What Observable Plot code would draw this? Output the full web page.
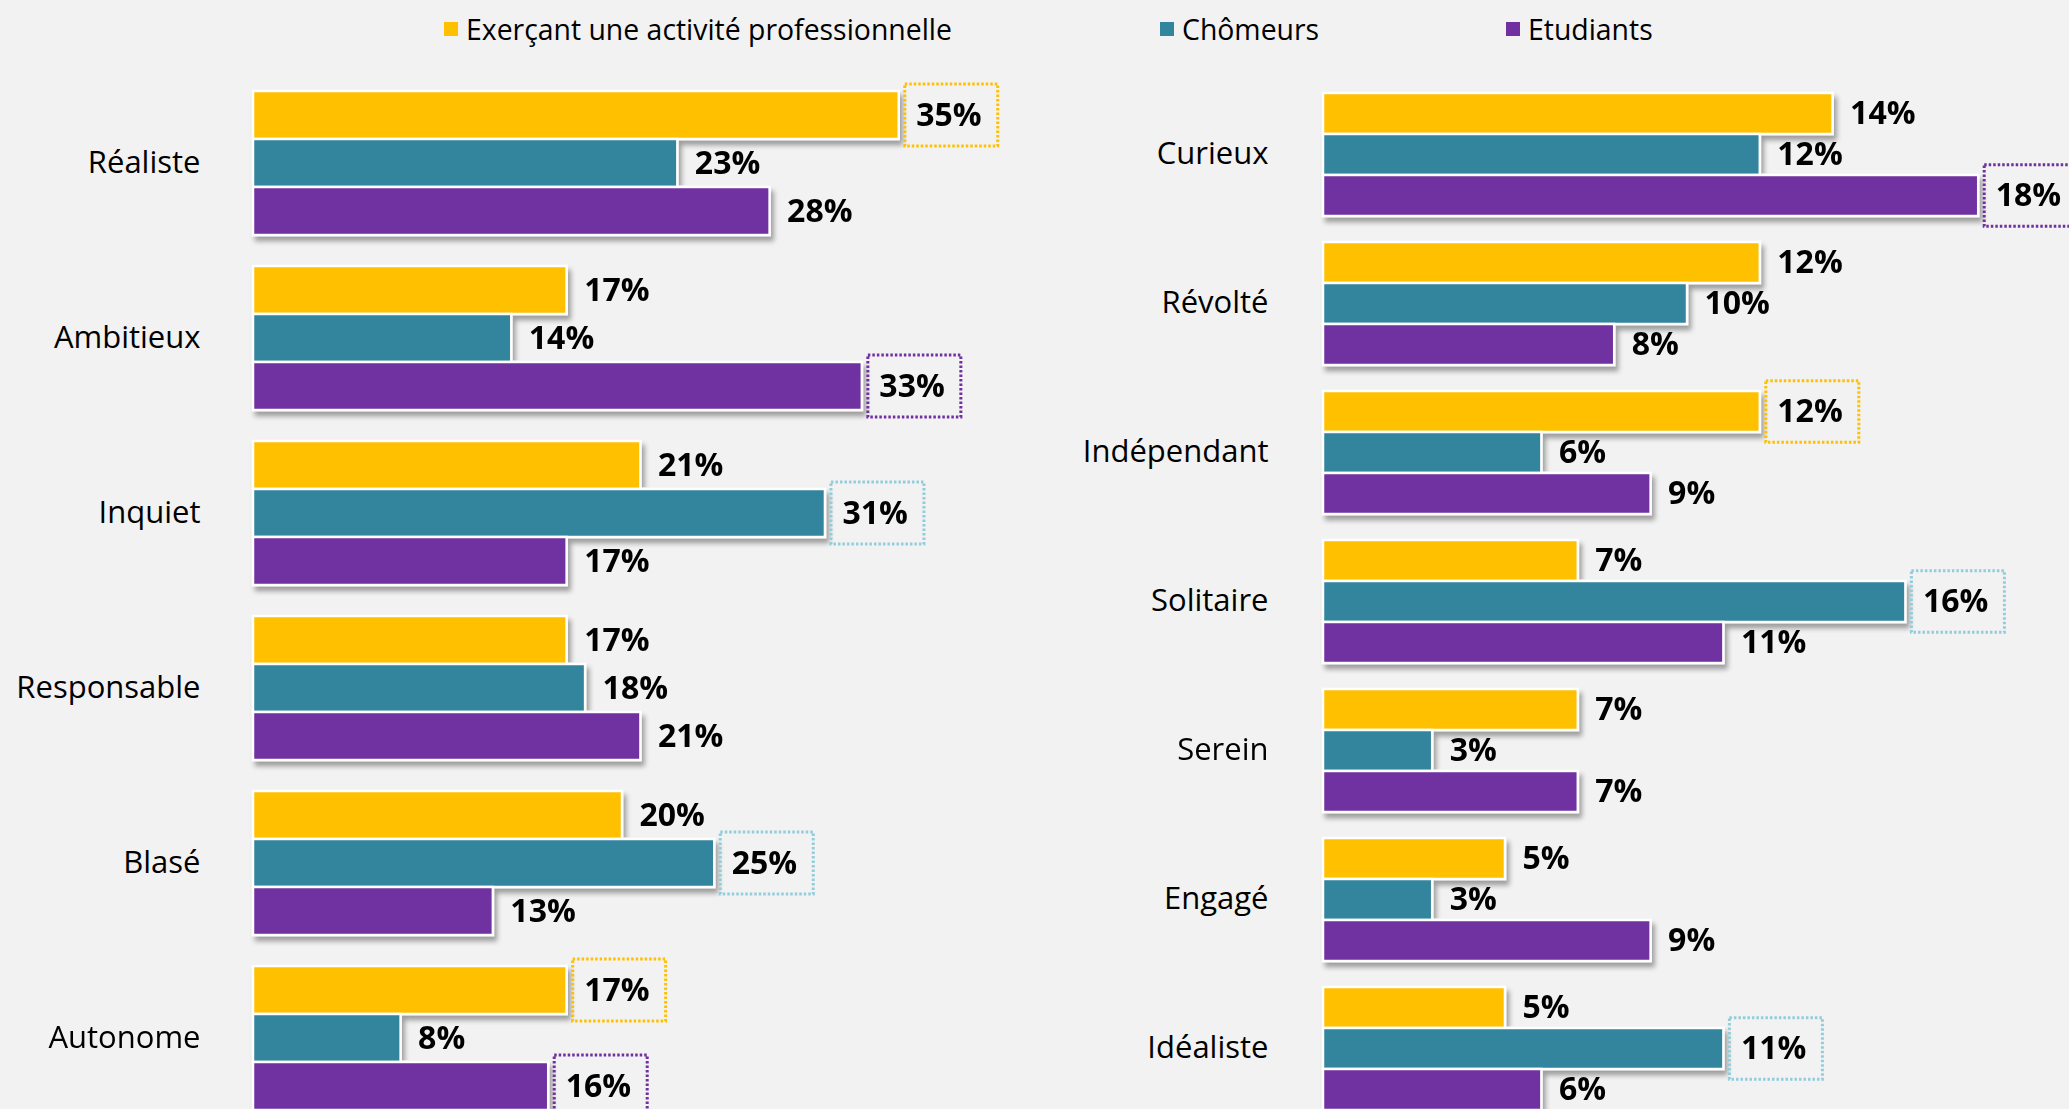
<!DOCTYPE html>
<html>
<head>
<meta charset="utf-8">
<script src="https://cdn.jsdelivr.net/npm/d3@7"></script>
<script src="https://cdn.jsdelivr.net/npm/@observablehq/plot@0.6"></script>
<style>
  html, body { margin: 0; padding: 0; background: #f2f2f2; width: 2069px; height: 1109px; overflow: hidden; font-family: "Open Sans", sans-serif; }
  #left, #right { position: absolute; top: 0; }
  #left { left: 0; width: 1040px; }
  #right { left: 1040px; width: 1029px; }
  .legend-item { position: absolute; top: 10px; height: 39px; font-size: 28.4px; line-height: 39px; color: #000; white-space: nowrap; }
  .legend-item .sw { position: absolute; left: 0; top: 12px; width: 14px; height: 14px; }
  .legend-item .lb { position: absolute; left: 22px; top: 0; }
</style>
</head>
<body>
<div id="legend"></div>
<div id="left"></div>
<div id="right"></div>
<script>
// ---- data ----
const seriesNames = ["Exerçant une activité professionnelle", "Chômeurs", "Etudiants"];
const seriesColors = ["#FFC000", "#31859C", "#7030A0"];
const highlightColors = ["#FFC000", "#92CDDC", "#7030A0"];

const leftCategories = ["Réaliste", "Ambitieux", "Inquiet", "Responsable", "Blasé", "Autonome"];
const leftWorking    = [35, 17, 21, 17, 20, 17];
const leftUnemployed = [23, 14, 31, 18, 25, 8];
const leftStudents   = [28, 33, 17, 21, 13, 16];
const leftWorkingHL    = [true, false, false, false, false, true];
const leftUnemployedHL = [false, false, true, false, true, false];
const leftStudentsHL   = [false, true, false, false, false, true];

const rightCategories = ["Curieux", "Révolté", "Indépendant", "Solitaire", "Serein", "Engagé", "Idéaliste"];
const rightWorking    = [14, 12, 12, 7, 7, 5, 5];
const rightUnemployed = [12, 10, 6, 16, 3, 3, 11];
const rightStudents   = [18, 8, 9, 11, 7, 9, 6];
const rightWorkingHL    = [false, false, true, false, false, false, false];
const rightUnemployedHL = [false, false, false, true, false, false, true];
const rightStudentsHL   = [true, false, false, false, false, false, false];

// ---- legend ----
const legendX = [444, 1160, 1506];
const legend = document.getElementById("legend");
seriesNames.forEach((s, j) => {
  const item = document.createElement("div");
  item.className = "legend-item";
  item.style.left = legendX[j] + "px";
  const sw = document.createElement("span");
  sw.className = "sw";
  sw.style.background = seriesColors[j];
  const lb = document.createElement("span");
  lb.className = "lb";
  lb.textContent = s;
  item.appendChild(sw);
  item.appendChild(lb);
  legend.appendChild(item);
});

// ---- panels ----
function makePanel({id, categories, values, highlights, xMax, width, marginLeft, marginRight, labelGap, boxInsetY}) {
  const rows = categories.flatMap((c, i) => seriesNames.map((s, j) => ({
    category: c, series: s, value: values[j][i], hl: highlights[j][i]
  })));
  const svg = Plot.plot({
    width,
    height: 1111,
    marginTop: 90,
    marginBottom: 0,
    marginLeft,
    marginRight,
    style: {background: "transparent", fontFamily: "'Open Sans', sans-serif", color: "#000"},
    facet: {data: rows, y: "category"},
    fy: {domain: categories, paddingInner: 0.168, paddingOuter: 0, axis: null, label: null},
    y: {domain: seriesNames, paddingInner: 0, paddingOuter: 0, axis: null, label: null},
    x: {domain: [0, xMax], axis: null},
    color: {domain: seriesNames, range: seriesColors},
    marks: [
      Plot.barX(rows, {x: "value", y: "series", fill: "series", stroke: "white", strokeWidth: 2.5, ariaDescription: "bars"}),
      ...seriesNames.map((s, j) => Plot.barX(rows, {
        filter: d => d.hl && d.series === s,
        x1: "value", x2: "value", y: "series",
        insetLeft: 6, insetRight: -99, insetTop: -boxInsetY, insetBottom: -boxInsetY,
        fill: "none", stroke: highlightColors[j], strokeWidth: 3, strokeDasharray: "2.5 2",
        ariaDescription: "highlight"
      })),
      Plot.text(rows, {x: "value", y: "series", text: d => d.value + "%", textAnchor: "start", dx: 17, fontSize: 32, fontWeight: "bold", fill: "#000"}),
      Plot.text(rows, {filter: d => d.series === seriesNames[0], text: "category", frameAnchor: "left", textAnchor: "end", dx: -labelGap, fontSize: 31, fill: "#000"})
    ]
  });
  // drop shadow under the bar groups
  const sel = d3.select(svg);
  const filt = sel.insert("defs", ":first-child").append("filter")
    .attr("id", "shadow-" + id)
    .attr("x", "-5%").attr("y", "-10%").attr("width", "115%").attr("height", "140%");
  filt.append("feDropShadow")
    .attr("dx", 3).attr("dy", 5).attr("stdDeviation", 2.5)
    .attr("flood-color", "#000").attr("flood-opacity", 0.35);
  sel.selectAll('g[aria-description="bars"]').attr("filter", `url(#shadow-${id})`);
  return svg;
}

document.getElementById("left").appendChild(makePanel({
  id: "left",
  categories: leftCategories,
  values: [leftWorking, leftUnemployed, leftStudents],
  highlights: [leftWorkingHL, leftUnemployedHL, leftStudentsHL],
  xMax: 40, width: 1040, marginLeft: 253, marginRight: 49, labelGap: 53, boxInsetY: 7
}));

document.getElementById("right").appendChild(makePanel({
  id: "right",
  categories: rightCategories,
  values: [rightWorking, rightUnemployed, rightStudents],
  highlights: [rightWorkingHL, rightUnemployedHL, rightStudentsHL],
  xMax: 20, width: 1029, marginLeft: 283, marginRight: 18, labelGap: 55, boxInsetY: 10.3
}));
</script>
</body>
</html>
